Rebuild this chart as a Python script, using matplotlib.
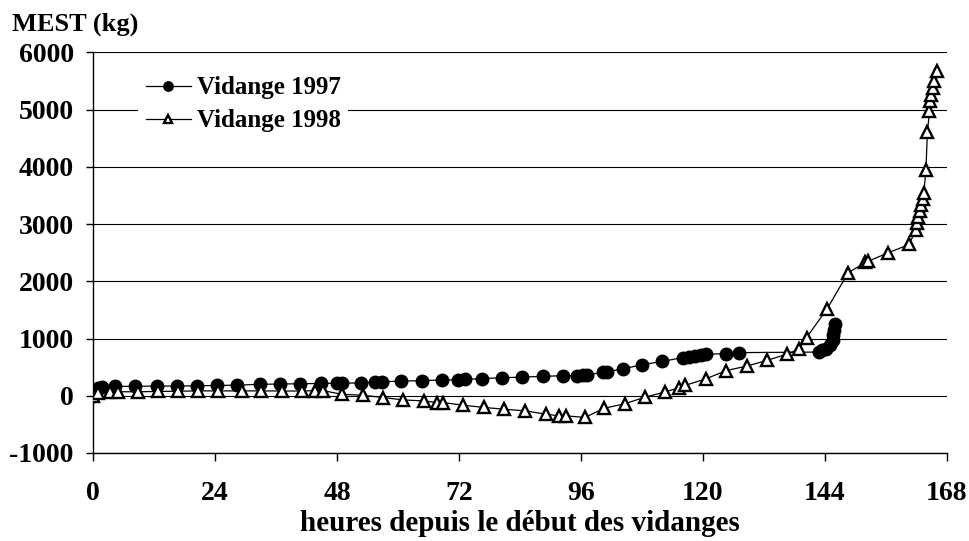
import matplotlib
matplotlib.use("Agg")
import matplotlib.pyplot as plt

plt.rcParams['font.family'] = ['Liberation Serif', 'DejaVu Serif']
plt.rcParams['font.weight'] = 'bold'
plt.rcParams['axes.unicode_minus'] = False

# Vidange 1997 (heures, MEST kg)
h_1997 = [0, 0.3, 0.6, 1.0, 1.7, 4.3, 8.2, 12.5, 16.5, 20.4, 24.3, 28.2, 32.8,
          36.7, 40.7, 44.8, 48.0, 49.0, 52.7, 55.4, 56.8, 60.6, 64.7, 68.6,
          71.7, 73.1, 76.5, 80.4, 84.3, 88.6, 92.5, 95.2, 96.4, 97.2, 100.4,
          101.1, 104.2, 108.1, 112.0, 116.1, 117.3, 118.4, 119.6, 120.7, 124.6,
          127.2, 142.8, 143.4, 144.2, 145.0, 145.6, 145.7, 145.8, 146.0]
m_1997 = [0, 50, 100, 140, 160, 165, 165, 170, 170, 175, 180, 185, 200,
          205, 210, 215, 220, 220, 225, 235, 245, 255, 265, 275,
          280, 285, 300, 315, 325, 340, 350, 350, 355, 360, 414,
          420, 469, 543, 601, 668, 685, 700, 712, 726, 737,
          754, 764, 794, 823, 882, 970, 1058, 1146, 1252]

# Vidange 1998
h_1998 = [0, 0.9, 3.2, 4.9, 8.8, 12.7, 16.7, 20.6, 24.5, 29.3, 33.0, 37.1,
          41.0, 43.6, 45.2, 48.9, 53.1, 57.1, 61.0, 65.0, 67.6, 68.8, 72.8,
          77.0, 80.9, 85.0, 89.1, 91.7, 93.1, 96.8, 100.5, 104.6, 108.6,
          112.5, 115.3, 116.5, 120.7, 124.6, 128.7, 132.7, 136.6, 139.0,
          140.4, 144.4, 148.6, 152.0, 152.5, 156.5, 160.6, 161.9, 162.2,
          162.4, 162.7, 162.9, 163.3, 163.5, 163.9, 164.2, 164.6, 164.8,
          165.0, 165.3, 165.5, 166.1]
m_1998 = [0, 50, 65, 70, 70, 75, 80, 85, 85, 85, 85, 83,
          83, 90, 90, 26, 9, -31, -73, -90, -118, -118, -165,
          -205, -235, -264, -322, -351, -351, -379, -220, -140, -25,
          65, 140, 180, 300, 440, 520, 620, 730, 820,
          1018, 1511, 2150, 2330, 2350, 2500, 2644, 2895, 3012,
          3128, 3233, 3333, 3433, 3539, 3947, 4602, 4970, 5146,
          5263, 5381, 5496, 5672]

x_ticks = [0, 24, 48, 72, 96, 120, 144, 168]
y_ticks = [-1000, 0, 1000, 2000, 3000, 4000, 5000, 6000]

fig = plt.figure(figsize=(9.7, 5.41), dpi=100)
ax = fig.add_axes([0.0962, 0.1627, 0.8798, 0.7403])

ax.plot(h_1997, m_1997, color='black', lw=0.9, marker='o', markersize=9,
        markerfacecolor='black', markeredgecolor='black', label='Vidange 1997', zorder=3)
ax.plot(h_1998, m_1998, color='black', lw=0.9, marker='^', markersize=8.5,
        markerfacecolor='white', markeredgecolor='black', markeredgewidth=1.7,
        label='Vidange 1998', zorder=4)

ax.set_xlim(0, 168)
ax.set_ylim(-1000, 6000)
ax.set_xticks(x_ticks)
ax.set_yticks(y_ticks)
ax.yaxis.grid(True, color='black', lw=0.8)
ax.set_axisbelow(True)
for s in ['top', 'right']:
    ax.spines[s].set_visible(False)
ax.spines['left'].set_linewidth(1.0)
ax.spines['bottom'].set_linewidth(1.0)
ax.tick_params(axis='x', direction='out', length=6, width=1, pad=14, labelsize=20)
ax.tick_params(axis='y', direction='out', length=5, width=1, pad=9, labelsize=20)
for lbl in ax.get_xticklabels() + ax.get_yticklabels():
    lbl.set_fontweight('bold')

leg = ax.legend(loc='upper left', bbox_to_anchor=(0.038, 0.99), fontsize=18,
                frameon=True, facecolor='white', edgecolor='none', framealpha=1,
                handlelength=1.8, handletextpad=0.25, labelspacing=0.4,
                borderpad=0.3, markerscale=0.75, fancybox=False)
for t in leg.get_texts():
    t.set_fontweight('bold')

fig.text(0.012, 0.956, 'MEST (kg)', fontsize=19, fontweight='bold', va='center', ha='left')
fig.text(0.536, 0.033, 'heures depuis le début des vidanges', fontsize=21,
         fontweight='bold', va='center', ha='center')

fig.savefig('out.png', dpi=100)
